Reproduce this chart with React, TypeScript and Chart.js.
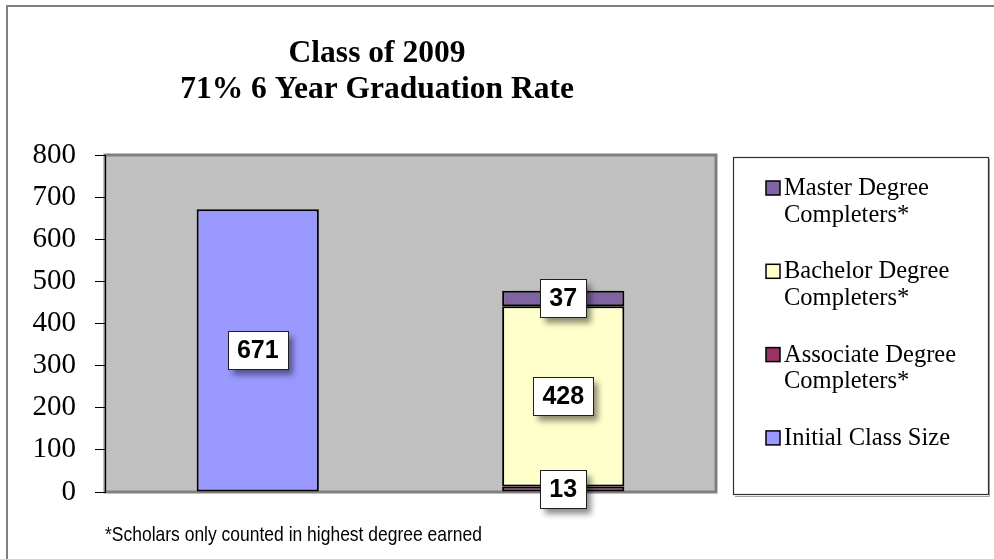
import React, { useEffect, useRef } from 'react';
import { Chart, registerables } from 'chart.js';

Chart.register(...registerables);

// ---- data ----
const categories = ['Initial Class', 'Degree Completers'];
const seriesNames = [
  'Initial Class Size',
  'Associate Degree Completers*',
  'Bachelor Degree Completers*',
  'Master Degree Completers*',
];
const initialClassSize = [671, null];
const associateCompleters = [null, 13];
const bachelorCompleters = [null, 428];
const masterCompleters = [null, 37];
const seriesColors = ['#9999FF', '#993366', '#FFFFCC', '#8064A2'];
const titleLines = ['Class of 2009', '71% 6 Year Graduation Rate'];
const footnote = '*Scholars only counted in highest degree earned';
const yMin = 0;
const yMax = 800;
const yStep = 100;

const SERIF = "'Liberation Serif','Times New Roman',Times,serif";
const SANS = "'Liberation Sans',Arial,Helvetica,sans-serif";

function wrapText(ctx: CanvasRenderingContext2D, text: string, maxW: number): string[] {
  const words = text.split(' ');
  const lines: string[] = [];
  let cur = '';
  for (const w of words) {
    const t = cur ? cur + ' ' + w : w;
    if (ctx.measureText(t).width > maxW && cur) {
      lines.push(cur);
      cur = w;
    } else cur = t;
  }
  if (cur) lines.push(cur);
  return lines;
}

const decorPlugin = {
  id: 'decor',
  beforeDraw(chart: any) {
    const { ctx, chartArea: a } = chart;
    ctx.save();
    ctx.fillStyle = '#ffffff';
    ctx.fillRect(0, 0, chart.width, chart.height);
    // outer frame
    ctx.strokeStyle = '#808080';
    ctx.lineWidth = 2;
    ctx.beginPath();
    ctx.moveTo(7, chart.height);
    ctx.lineTo(7, 6);
    ctx.lineTo(chart.width, 6);
    ctx.stroke();
    // plot area
    ctx.fillStyle = '#C0C0C0';
    ctx.fillRect(a.left, a.top, a.right - a.left, a.bottom - a.top);
    ctx.strokeStyle = '#808080';
    ctx.lineWidth = 3;
    ctx.strokeRect(a.left, a.top, a.right - a.left, a.bottom - a.top);
    ctx.restore();
  },
  afterDatasetsDraw(chart: any) {
    const { ctx } = chart;
    ctx.save();
    ctx.font = `bold 25px ${SANS}`;
    ctx.textAlign = 'center';
    ctx.textBaseline = 'middle';
    chart.data.datasets.forEach((ds: any, di: number) => {
      const meta = chart.getDatasetMeta(di);
      meta.data.forEach((el: any, i: number) => {
        const v = ds.data[i];
        if (v === null || v === undefined) return;
        const { x, y, base } = el.getProps(['x', 'y', 'base'], true);
        const cy = (y + base) / 2;
        const txt = String(v);
        const tw = ctx.measureText(txt).width;
        const w = Math.round(tw + 18);
        const h = 38;
        const bx = Math.round(x - w / 2) + 0.5;
        const by = Math.round(cy - h / 2) + 0.5;
        ctx.save();
        ctx.shadowColor = 'rgba(0,0,0,0.45)';
        ctx.shadowBlur = 6;
        ctx.shadowOffsetX = 4;
        ctx.shadowOffsetY = 5;
        ctx.fillStyle = '#ffffff';
        ctx.fillRect(bx, by, w, h);
        ctx.restore();
        ctx.strokeStyle = '#202020';
        ctx.lineWidth = 1;
        ctx.strokeRect(bx, by, w, h);
        ctx.fillStyle = '#000000';
        ctx.fillText(txt, x, cy + 1);
      });
    });
    ctx.restore();
  },
  afterDraw(chart: any) {
    const { ctx } = chart;
    ctx.save();
    // title
    ctx.fillStyle = '#000';
    ctx.font = `bold 31.5px ${SERIF}`;
    ctx.textAlign = 'center';
    ctx.textBaseline = 'alphabetic';
    ctx.fillText(titleLines[0], 377, 62);
    ctx.fillText(titleLines[1], 377, 98);

    // legend box
    ctx.strokeStyle = '#a0a0a0';
    ctx.lineWidth = 1;
    ctx.beginPath();
    ctx.moveTo(989.5, 159);
    ctx.lineTo(989.5, 496.5);
    ctx.lineTo(735, 496.5);
    ctx.stroke();
    ctx.fillStyle = '#ffffff';
    ctx.fillRect(733.5, 157.5, 255, 337);
    ctx.strokeStyle = '#303030';
    ctx.lineWidth = 1.2;
    ctx.strokeRect(733.5, 157.5, 255, 337);

    // legend entries (reverse order)
    ctx.font = `24.5px ${SERIF}`;
    ctx.textAlign = 'left';
    const order = [3, 2, 1, 0];
    order.forEach((di, k) => {
      const ds = chart.data.datasets[di];
      const baseY = 195 + k * 83.3;
      ctx.fillStyle = ds.backgroundColor;
      ctx.fillRect(766, baseY - 14, 14, 14);
      ctx.strokeStyle = '#000';
      ctx.lineWidth = 1.5;
      ctx.strokeRect(766, baseY - 14, 14, 14);
      ctx.fillStyle = '#000';
      const lines = wrapText(ctx, ds.label, 185);
      lines.forEach((ln, li) => ctx.fillText(ln, 784, baseY + li * 26.7));
    });

    // footnote
    ctx.font = `21px ${SANS}`;
    ctx.fillStyle = '#000';
    ctx.textAlign = 'left';
    ctx.fillText(footnote, 105, 541, 377);
    ctx.restore();
  },
};

export default function App() {
  const canvasRef = useRef<HTMLCanvasElement | null>(null);

  useEffect(() => {
    const canvas = canvasRef.current;
    if (!canvas) return;
    const values = [initialClassSize, associateCompleters, bachelorCompleters, masterCompleters];
    const chart = new Chart(canvas, {
      type: 'bar',
      data: {
        labels: categories,
        datasets: values.map((d, i) => ({
          label: seriesNames[i],
          data: d,
          backgroundColor: seriesColors[i],
          borderColor: '#000000',
          borderWidth: 2,
          borderSkipped: false,
          barPercentage: 0.4,
          categoryPercentage: 1.0,
        })),
      },
      options: {
        responsive: false,
        animation: false,
        events: [],
        layout: { padding: { left: 0, top: 155, right: 278, bottom: 67 } },
        plugins: {
          legend: { display: false },
          title: { display: false },
          tooltip: { enabled: false },
        },
        scales: {
          x: {
            stacked: true,
            display: false,
          },
          y: {
            stacked: true,
            min: yMin,
            max: yMax,
            afterFit: (s: any) => {
              s.width = 105;
            },
            ticks: {
              stepSize: yStep,
              color: '#000',
              padding: 19,
              font: { family: SERIF, size: 29 },
            },
            grid: {
              display: true,
              drawOnChartArea: false,
              drawTicks: true,
              tickLength: 10,
              color: '#000',
              lineWidth: 1,
            },
            border: { display: true, color: '#000', width: 1 },
          },
        },
      },
      plugins: [decorPlugin],
    });
    return () => chart.destroy();
  }, []);

  return (
    <div style={{ position: 'absolute', left: 0, top: 0, width: 994, height: 559 }}>
      <canvas ref={canvasRef} width={994} height={559} style={{ display: 'block' }} />
    </div>
  );
}
